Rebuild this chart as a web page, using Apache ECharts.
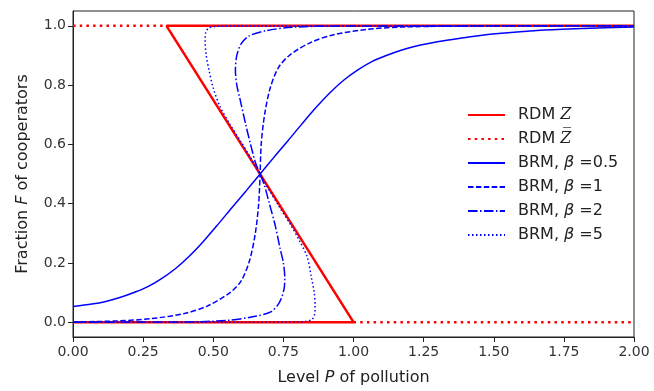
<!DOCTYPE html>
<html>
<head>
<meta charset="utf-8">
<script src="https://cdn.jsdelivr.net/npm/echarts@6/dist/echarts.min.js"></script>
<style>
  html, body { margin: 0; padding: 0; background: #fff; }
  #chart { width: 654px; height: 391px; }
</style>
</head>
<body>
<div id="chart"></div>
<script>
// tick labels
const xTicks = [0, 0.25, 0.5, 0.75, 1, 1.25, 1.5, 1.75, 2]
const yTicks = [0, 0.2, 0.4, 0.6, 0.8, 1.0]

// RDM lines, [P, F]
const rdmZ = [[0, 0], [1, 0], [0.3333, 1], [2, 1]]
const rdmZbarTop = [[0, 1], [0.3333, 1]]
const rdmZbarBottom = [[1, 0], [2, 0]]

// BRM curves, [P, F]
const brm05 = [
  [0, 0.053], [0.067, 0.061], [0.117, 0.07], [0.167, 0.083], [0.217, 0.1], [0.267, 0.12],
  [0.317, 0.148], [0.367, 0.182], [0.417, 0.225], [0.467, 0.275], [0.517, 0.33],
  [0.567, 0.387], [0.617, 0.443], [0.667, 0.5], [0.717, 0.557], [0.767, 0.613],
  [0.817, 0.67], [0.867, 0.725], [0.917, 0.775], [0.967, 0.818], [1.017, 0.852],
  [1.067, 0.88], [1.117, 0.9], [1.167, 0.917], [1.217, 0.93], [1.267, 0.94],
  [1.333, 0.951], [1.417, 0.963], [1.517, 0.974], [1.667, 0.985], [1.817, 0.991], [2.0, 0.996]
]
const brm1 = [
  [0, 0.001], [0.15, 0.004], [0.28, 0.012], [0.4, 0.03], [0.48, 0.055], [0.56, 0.1],
  [0.6, 0.14], [0.63, 0.21], [0.65, 0.3], [0.662, 0.4], [0.667, 0.5], [0.671, 0.6],
  [0.683, 0.7], [0.703, 0.79], [0.733, 0.86], [0.775, 0.903], [0.85, 0.945],
  [0.93, 0.97], [1.05, 0.988], [1.17, 0.996], [1.4, 0.999], [2, 1]
]
const brm2 = [
  [0, 0], [0.4, 0.001], [0.55, 0.006], [0.64, 0.018], [0.705, 0.035], [0.735, 0.065],
  [0.752, 0.11], [0.755, 0.15], [0.75, 0.2], [0.738, 0.25], [0.72, 0.33], [0.7, 0.4],
  [0.683, 0.46], [0.667, 0.5], [0.65, 0.54], [0.633, 0.6], [0.615, 0.67], [0.596, 0.75],
  [0.584, 0.8], [0.579, 0.85], [0.584, 0.9], [0.6, 0.94], [0.628, 0.966],
  [0.69, 0.984], [0.78, 0.995], [0.93, 0.999], [2, 1]
]
const brm5 = [
  [0, 0], [0.6, 0], [0.783, 0.001], [0.833, 0.003], [0.853, 0.01], [0.861, 0.025],
  [0.863, 0.05], [0.86, 0.1], [0.85, 0.15], [0.835, 0.22], [0.81, 0.27], [0.775, 0.33],
  [0.735, 0.39], [0.7, 0.445], [0.667, 0.5], [0.633, 0.555], [0.598, 0.61], [0.558, 0.67],
  [0.523, 0.73], [0.5, 0.79], [0.485, 0.85], [0.475, 0.9], [0.471, 0.95], [0.473, 0.977],
  [0.482, 0.991], [0.5, 0.997], [0.55, 0.999], [2, 1]
]

const RED = '#ff0000'
const BLUE = '#0000ff'
const FONT = 'DejaVu Sans'

const chart = echarts.init(document.getElementById('chart'))

const lineSeries = (name, data, color, width, dash) => ({
  name,
  type: 'line',
  data,
  symbol: 'none',
  showSymbol: false,
  smooth: name.startsWith('RDM') ? false : 0.3,
  lineStyle: { color, width, type: dash || 'solid', cap: 'butt' },
  itemStyle: { color },
  z: name.startsWith('RDM') ? 2 : 3,
  animation: false
})

const zName = 'RDM Z'
const zbarName = 'RDM Z\u0305'

const italic = { fontFamily: FONT, fontSize: 16, fontStyle: 'italic', color: '#222' }

chart.setOption({
  animation: false,
  textStyle: { fontFamily: FONT },
  grid: {
    left: 73, right: 20, top: 11, bottom: 54,
    show: true, borderColor: '#222', borderWidth: 1
  },
  legend: {
    orient: 'vertical',
    left: 462,
    top: 102,
    itemWidth: 37,
    itemHeight: 14,
    itemGap: 8,
    itemStyle: { opacity: 0 },
    textStyle: {
      fontFamily: FONT, fontSize: 16, color: '#222', padding: [0, 0, 0, 8],
      rich: {
        i: italic,
        z: { fontFamily: 'DejaVu Serif', fontSize: 16, fontStyle: 'italic', color: '#222' }
      }
    },
    formatter: name => name.replace('β', '{i|β}').replace(/Z\u0305?/, m => '{z|' + m + '}'),
    data: [zName, zbarName, 'BRM, β =0.5', 'BRM, β =1', 'BRM, β =2', 'BRM, β =5']
  },
  xAxis: {
    type: 'value',
    min: 0,
    max: 2,
    interval: 0.25,
    name: 'Level {i|P} of pollution',
    nameLocation: 'middle',
    nameGap: 33,
    nameTextStyle: { fontFamily: FONT, fontSize: 16, color: '#222', rich: { i: italic } },
    axisLine: { show: true, onZero: false, lineStyle: { color: '#222', width: 1 } },
    axisTick: { show: true, length: 5, lineStyle: { color: '#222' } },
    axisLabel: { fontSize: 14, color: '#333', margin: 8, formatter: v => v.toFixed(2) },
    splitLine: { show: false }
  },
  yAxis: {
    type: 'value',
    min: -0.05,
    max: 1.05,
    name: 'Fraction {i|F} of cooperators',
    nameLocation: 'middle',
    nameGap: 42,
    nameRotate: 90,
    nameTextStyle: { fontFamily: FONT, fontSize: 16, color: '#222', rich: { i: italic } },
    axisLine: { show: true, onZero: false, lineStyle: { color: '#222', width: 1 } },
    axisTick: { show: true, length: 5, customValues: yTicks, lineStyle: { color: '#222' } },
    axisLabel: { fontSize: 14, color: '#333', margin: 7, customValues: yTicks, formatter: v => v.toFixed(1) },
    splitLine: { show: false }
  },
  series: [
    lineSeries(zName, rdmZ, RED, 2.5),
    lineSeries(zbarName, rdmZbarTop, RED, 2.5, [2.5, 4.2]),
    lineSeries(zbarName, rdmZbarBottom, RED, 2.5, [2.5, 4.2]),
    lineSeries('BRM, β =0.5', brm05, BLUE, 1.5),
    lineSeries('BRM, β =1', brm1, BLUE, 1.5, [5.5, 2.4]),
    lineSeries('BRM, β =2', brm2, BLUE, 1.5, [9.6, 2.4, 1.5, 2.4]),
    lineSeries('BRM, β =5', brm5, BLUE, 1.5, [1.5, 2.5])
  ]
})
</script>
</body>
</html>
